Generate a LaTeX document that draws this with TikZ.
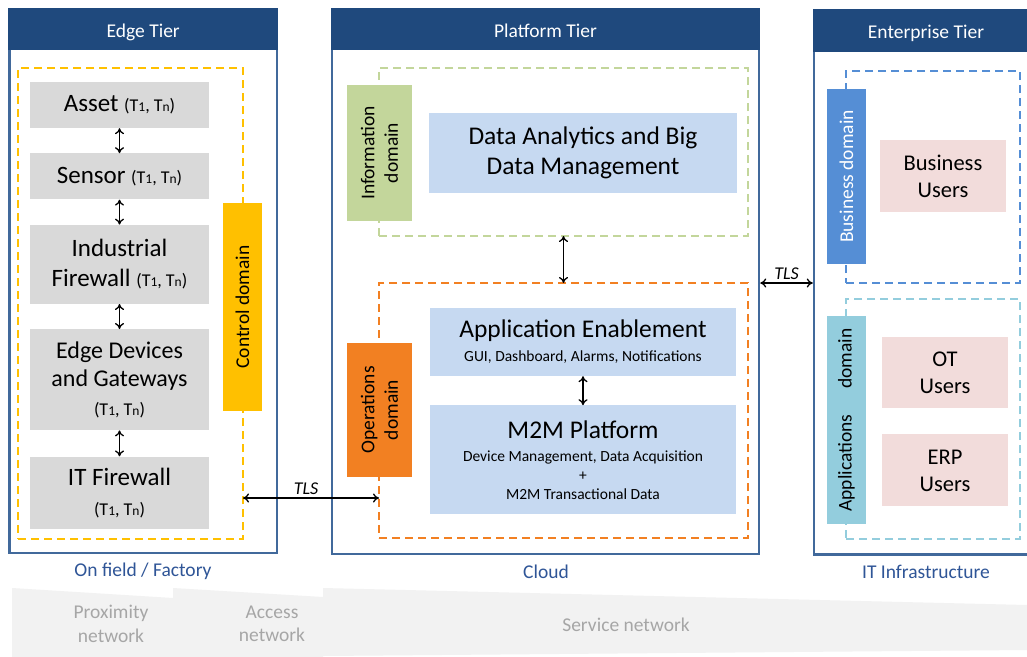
\documentclass[tikz,border=0pt]{standalone}
\usepackage{fontspec}
\setmainfont{Carlito}
\usetikzlibrary{positioning,arrows.meta}

\definecolor{tierblue}{RGB}{31,73,125}
\definecolor{tierline}{RGB}{65,105,155}
\definecolor{boxgrey}{RGB}{217,217,217}
\definecolor{ctrlyellow}{RGB}{255,192,0}
\definecolor{infogreen}{RGB}{195,214,155}
\definecolor{opsorange}{RGB}{242,128,34}
\definecolor{databluefill}{RGB}{198,217,241}
\definecolor{bizblue}{RGB}{85,142,213}
\definecolor{appcyan}{RGB}{147,205,221}
\definecolor{userpink}{RGB}{242,220,219}
\definecolor{bandgrey}{RGB}{242,242,242}
\definecolor{bandtext}{RGB}{166,166,166}
\definecolor{placeblue}{RGB}{47,85,151}

\newcommand{\fsz}[2]{\fontsize{#1}{#2}\selectfont}
\newcommand{\Tpair}{{\fsz{18}{22}(T{\fsz{13.5}{16}1}, T{\fsz{13.5}{16}n})}}

\begin{document}
\begin{tikzpicture}[x=1pt,y=-1pt,font=\fsz{19.5}{23.5},>={To[length=6pt,width=9pt]},
		tier/.style={draw=tierline,line width=2.5pt,inner sep=0pt},
		tierhead/.style={fill=tierblue,text=white,inner sep=0pt,anchor=north,text height=17pt,text depth=0pt},
		domainbox/.style={draw=#1,dash pattern=on 8pt off 5pt,line width=2pt,inner sep=0pt,outer sep=0pt},
		domainbar/.style={fill=#1,rotate=90,inner sep=0pt,align=center},
		edgebox/.style={fill=boxgrey,minimum width=179pt,inner sep=0pt,align=center,font=\fsz{25}{30}},
		databox/.style={fill=databluefill,minimum width=306pt,inner sep=0pt,align=center},
		userbox/.style={fill=userpink,minimum width=126pt,minimum height=72pt,inner sep=0pt,align=center,font=\fsz{22.5}{27}},
		link/.style={<->,line width=1.3pt},
		tls/.style={font=\fsz{18}{22}\itshape,inner sep=3pt},
		placelabel/.style={text=placeblue,font=\fsz{19.5}{23.5}},
		bandlabel/.style={text=bandtext,align=center,font=\fsz{19.5}{23.5}}]
	\useasboundingbox (0,0) rectangle (1027,656);
	\clip (0,0) rectangle (1027,656);
	\fill[white] (0,0) rectangle (1027,656);

	\fill[bandgrey] (12,588) -- (173,598) -- (173,660) -- (12,660) -- cycle;
	\fill[bandgrey] (173,588) -- (323,597) -- (323,660) -- (173,660) -- cycle;
	\fill[bandgrey] (323,588) -- (1027,605) -- (1027,650) -- (323,656) -- cycle;
	\node[bandlabel] (Proximity) at (111,624) {Proximity\\network};
	\node[bandlabel] (Access)    at (272,624) {Access\\network};
	\node[bandlabel] (Service)   at (626,625) {Service network};

	\node[tier,minimum width=267.5pt,minimum height=544pt] (EdgeTier)       at (143.25,281)  {};
	\node[tier,minimum width=427pt,minimum height=545pt]   (PlatformTier)   at (545.5,281.5) {};
	\node[tier,minimum width=224pt,minimum height=544.5pt] (EnterpriseTier) at (926,282.25)  {};
	\node[tierhead,minimum width=270pt,minimum height=42pt]   (EdgeHead)       at (EdgeTier.north)       {Edge Tier};
	\node[tierhead,minimum width=429.5pt,minimum height=42pt] (PlatformHead)   at (PlatformTier.north)   {Platform Tier};
	\node[tierhead,minimum width=226.5pt,minimum height=43pt] (EnterpriseHead) at (EnterpriseTier.north) {Enterprise Tier};

	\node[placelabel] (FieldLabel) at (143,571) {On field / Factory};
	\node[placelabel] (CloudLabel) at (546,572) {Cloud};
	\node[placelabel] (ITLabel)    at (926,572) {IT Infrastructure};

	\node[domainbox=ctrlyellow,minimum width=225pt,minimum height=471pt] (ControlBox) at (130.5,303.5) {};
	\node[domainbox=infogreen,minimum width=369pt,minimum height=168pt]  (InfoBox)    at (563.5,152)   {};
	\node[domainbox=opsorange,minimum width=369pt,minimum height=255pt]  (OpsBox)     at (563.5,410.5) {};
	\node[domainbox=bizblue,minimum width=174pt,minimum height=212pt]    (BizBox)     at (933,177)     {};
	\node[domainbox=appcyan,minimum width=174pt,minimum height=240pt]    (AppBox)     at (933,419)     {};

	\node[domainbar=ctrlyellow,minimum width=208pt,minimum height=39pt] (ControlBar) at (242.5,307)  {Control domain};
	\node[domainbar=infogreen,minimum width=136pt,minimum height=65pt]  (InfoBar)    at (379.5,153)  {Information\\domain};
	\node[domainbar=opsorange,minimum width=134pt,minimum height=65pt]  (OpsBar)     at (379.5,410)  {Operations\\domain};
	\node[domainbar=bizblue,text=white,minimum width=175pt,minimum height=39pt] (BizBar) at (846.5,176.5) {Business domain};
	\node[domainbar=appcyan,minimum width=208pt,minimum height=39pt]    (AppBar)     at (846.5,420)  {Applications\hspace{26pt}domain};

	\node[edgebox,minimum height=46pt]                          (Asset)       at (119.5,105) {Asset \Tpair};
	\node[edgebox,minimum height=46pt,below=25pt of Asset]       (Sensor)      {Sensor \Tpair};
	\node[edgebox,minimum height=79pt,below=25pt of Sensor]      (IndFirewall) {Industrial\\Firewall \Tpair};
	\node[edgebox,minimum height=101pt,below=25pt of IndFirewall,font=\fsz{24}{28.5}] (EdgeDevices) {Edge Devices\\and Gateways\\\Tpair};
	\node[edgebox,minimum height=72pt,below=26pt of EdgeDevices] (ITFirewall)  {IT Firewall\\\Tpair};

	\node[databox,minimum width=308pt,minimum height=80pt,font=\fsz{25.5}{30}] (Analytics) at (583,153) {Data Analytics and Big\\Data Management};
	\node[databox,minimum height=68pt,font=\fsz{15.5}{19}] (AppEnable) at (583,342)
		{{\fsz{25.5}{30}Application Enablement}\\[5pt]GUI, Dashboard, Alarms, Notifications};
	\node[databox,minimum height=109pt,below=29pt of AppEnable,font=\fsz{15.5}{19}] (M2M)
		{{\fsz{25.5}{30}M2M Platform}\\[4pt]Device Management, Data Acquisition\\+\\M2M Transactional Data};

	\node[userbox]                        (BizUsers) at (943,176)   {Business\\Users};
	\node[userbox,minimum height=71pt]    (OTUsers)  at (945,372.5) {OT\\Users};
	\node[userbox,below=26pt of OTUsers]  (ERPUsers) {ERP\\Users};

	\coordinate (TLSLow) at (0,498);
	\path[link] (Asset)       edge (Sensor)
				(Sensor)      edge (IndFirewall)
				(IndFirewall) edge (EdgeDevices)
				(EdgeDevices) edge (ITFirewall)
				(InfoBox)     edge (OpsBox)
				(AppEnable)   edge (M2M)
				(ControlBox.east |- TLSLow)    edge node[tls,above,xshift=-5pt] {TLS} (OpsBox.west |- TLSLow)
				(PlatformTier.east |- OpsBox.north) edge node[tls,above] {TLS} (EnterpriseTier.west |- OpsBox.north);
\end{tikzpicture}
\end{document}
